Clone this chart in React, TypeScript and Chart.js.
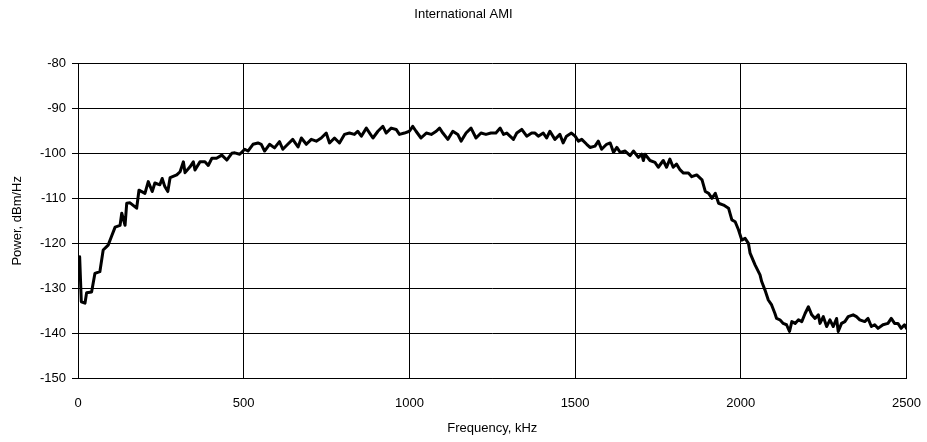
import React, { useEffect, useRef } from "react";
import { Chart, registerables } from "chart.js";

Chart.register(...registerables);

const chartTitle = "International AMI";
const xAxisTitle = "Frequency, kHz";
const yAxisTitle = "Power, dBm/Hz";

const freqKHz: number[] = [
  5, 10, 21, 26, 41, 51, 66, 76, 91, 101, 112, 127, 132, 142, 147, 157, 177, 184, 202, 212,
  224, 232, 247, 254, 262, 271, 278, 298, 308, 318, 323, 338, 348, 353, 368, 383, 393, 404, 418, 434,
  449, 464, 473, 488, 503, 513, 528, 543, 553, 563, 578, 593, 608, 618, 633, 648, 664, 674, 689, 704,
  719, 734, 749, 759, 774, 789, 804, 819, 834, 844, 855, 870, 880, 890, 905, 920, 930, 945, 960, 970,
  985, 1000, 1010, 1020, 1035, 1051, 1066, 1081, 1091, 1101, 1116, 1131, 1146, 1156, 1171, 1186, 1201, 1216, 1231, 1246,
  1261, 1274, 1284, 1294, 1314, 1324, 1339, 1354, 1369, 1379, 1389, 1404, 1414, 1424, 1439, 1454, 1464, 1474, 1489, 1500,
  1510, 1520, 1535, 1545, 1560, 1570, 1580, 1595, 1606, 1616, 1626, 1636, 1651, 1666, 1676, 1691, 1701, 1706, 1711, 1726,
  1741, 1751, 1766, 1776, 1786, 1796, 1806, 1817, 1827, 1842, 1852, 1867, 1883, 1893, 1903, 1913, 1923, 1933, 1948, 1963,
  1973, 1983, 1993, 2003, 2013, 2023, 2028, 2043, 2058, 2063, 2073, 2083, 2093, 2103, 2108, 2118, 2128, 2138, 2147, 2154,
  2164, 2174, 2184, 2194, 2204, 2214, 2224, 2234, 2239, 2249, 2259, 2269, 2279, 2289, 2294, 2304, 2314, 2324, 2339, 2349,
  2359, 2374, 2384, 2394, 2404, 2414, 2429, 2444, 2454, 2464, 2474, 2484, 2494, 2500,
];

const powerDbmHz: number[] = [
  -123, -133, -133.3, -131, -130.8, -126.7, -126.3, -121.5, -120.4, -118.5, -116.4, -116, -113.3, -116, -111.1, -111, -112.2, -108.2, -108.9, -106.3,
  -108.5, -106.6, -107, -105.6, -107.4, -108.5, -105.4, -104.8, -104.1, -101.9, -104.3, -103, -101.9, -103.7, -101.9, -101.9, -102.7, -101.1, -101.1, -100.4,
  -101.5, -100, -99.9, -100.2, -99.1, -99.5, -98.0, -97.7, -98.0, -99.5, -98.0, -98.8, -97.4, -99.1, -98.0, -96.9, -98.6, -96.6, -98.0, -96.9,
  -97.3, -96.6, -95.5, -97.7, -96.6, -97.7, -95.8, -95.5, -95.8, -95.1, -96.2, -94.4, -95.5, -96.6, -95.1, -94.0, -95.5, -94.4, -94.7, -95.8,
  -95.5, -95.1, -94.0, -95.1, -96.6, -95.5, -95.8, -95.1, -94.4, -95.5, -96.9, -95.1, -95.8, -97.3, -95.5, -94.4, -96.6, -95.5, -95.8, -95.5,
  -95.5, -94.4, -95.8, -95.5, -96.9, -95.5, -94.7, -96.2, -95.5, -95.5, -96.2, -95.5, -96.6, -95.1, -96.9, -95.8, -97.7, -96.2, -95.5, -96.2,
  -97.3, -96.9, -98.0, -98.7, -98.4, -97.3, -99.1, -98.0, -97.7, -99.8, -98.7, -99.8, -99.5, -100.5, -99.5, -100.9, -100.2, -101.6, -100.2, -101.6,
  -102.0, -103.1, -101.6, -103.1, -101.3, -103.1, -102.4, -103.7, -104.4, -104.4, -105.2, -104.8, -105.9, -108.5, -108.9, -110, -108.9, -111.1, -111.5, -112.2,
  -114.8, -115.2, -117.0, -119.3, -118.9, -120, -122.2, -124.8, -127.0, -128.5, -130.4, -132.6, -133.7, -135.6, -136.7, -137.0, -137.8, -138.1, -139.6, -137.4,
  -137.8, -137.0, -137.4, -135.6, -134.1, -135.9, -136.7, -135.9, -137.8, -136.3, -138.5, -137.0, -138.5, -136.7, -139.6, -137.8, -137.4, -136.3, -135.9, -136.3,
  -137.0, -137.4, -136.7, -138.5, -138.1, -138.9, -138.1, -137.8, -136.7, -137.8, -137.8, -138.9, -138.1, -138.9,
];

const xMin = 0;
const xMax = 2500;
const xStep = 500;
const yMin = -150;
const yMax = -80;
const yStep = 10;

const FONT = "'Liberation Sans', Arial, sans-serif";
const FONT_SIZE = 13;

export default function App() {
  const canvasRef = useRef<HTMLCanvasElement | null>(null);

  useEffect(() => {
    const canvas = canvasRef.current;
    if (!canvas) return;
    const points = freqKHz.map((f, i) => ({ x: f, y: powerDbmHz[i] }));
    const chart = new Chart(canvas, {
      type: "line",
      data: {
        datasets: [
          {
            data: points,
            borderColor: "#000000",
            borderWidth: 3,
            pointRadius: 0,
            tension: 0,
            fill: false,
            borderJoinStyle: "round",
            borderCapStyle: "round",
          },
        ],
      },
      options: {
        animation: false,
        responsive: false,
        maintainAspectRatio: false,
        layout: { padding: { left: 0, right: 0, top: 0, bottom: 0 } },
        plugins: {
          legend: { display: false },
          tooltip: { enabled: false },
          title: {
            display: true,
            text: chartTitle,
            color: "#000000",
            font: { family: FONT, size: FONT_SIZE, weight: "normal" },
            padding: { top: 6.2, bottom: 41.5 },
          },
        },
        scales: {
          x: {
            type: "linear",
            min: xMin,
            max: xMax,
            afterFit: (scale: any) => {
              scale.height = 63.7;
              scale.paddingLeft = 0;
              scale.paddingRight = 20.5;
            },
            ticks: {
              stepSize: xStep,
              color: "#000000",
              font: { family: FONT, size: FONT_SIZE },
              padding: 17,
              maxRotation: 0,
              callback: (v: any) => String(v),
            },
            grid: {
              color: "#000000",
              lineWidth: 1,
              drawTicks: false,
            },
            border: { color: "#000000", width: 1 },
            title: {
              display: true,
              text: xAxisTitle,
              color: "#000000",
              font: { family: FONT, size: FONT_SIZE },
              padding: { top: 0, bottom: 6.2 },
            },
          },
          y: {
            type: "linear",
            min: yMin,
            max: yMax,
            afterFit: (scale: any) => {
              scale.width = 78;
              scale.paddingTop = 0;
              scale.paddingBottom = 0;
            },
            ticks: {
              stepSize: yStep,
              color: "#000000",
              font: { family: FONT, size: FONT_SIZE },
              padding: 6,
              callback: (v: any) => String(v),
            },
            grid: {
              color: "#000000",
              lineWidth: 1,
              drawTicks: true,
              tickLength: 6,
              tickColor: "#000000",
            },
            border: { color: "#000000", width: 1 },
            title: {
              display: true,
              text: yAxisTitle,
              color: "#000000",
              font: { family: FONT, size: FONT_SIZE },
              padding: { top: 9.5, bottom: 0 },
            },
          },
        },
      },
    });
    return () => chart.destroy();
  }, []);

  return (
    <div style={{ position: "fixed", left: 0, top: 0, width: 927, height: 442, background: "#ffffff" }}>
      <canvas ref={canvasRef} width={927} height={442} style={{ display: "block", width: 927, height: 442 }} />
    </div>
  );
}
